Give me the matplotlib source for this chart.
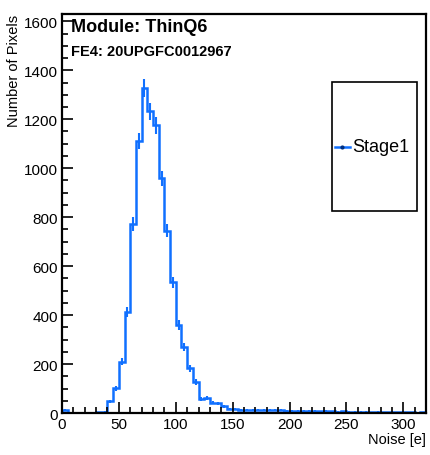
import matplotlib
matplotlib.use("Agg")
import matplotlib.pyplot as plt
from matplotlib.patches import Rectangle
from matplotlib.lines import Line2D
from matplotlib.ticker import MultipleLocator
import numpy as np

plt.rcParams['font.family'] = ['Liberation Sans', 'DejaVu Sans']

# noise histogram, 5 e bins from 0 to 320
bin_edges = np.arange(0, 325, 5)
counts = [12, 0, 0, 0, 0, 0, 3, 6,
          47, 101, 209, 413, 772, 1111, 1328, 1233,
          1175, 958, 745, 534, 359, 270, 183, 126,
          58, 62, 42, 40, 27, 17, 18, 14,
          12, 14, 13, 12, 13, 12, 11, 10,
          9, 10, 8, 9, 8, 7, 8, 7,
          6, 7, 6, 5, 6, 5, 4, 5,
          4, 4, 3, 4, 3, 3, 2, 3]
series_name = "Stage1"
module_text = "Module: ThinQ6"
fe_text = "FE4: 20UPGFC0012967"

blue = '#1070ff'

fig = plt.figure(figsize=(4.31, 4.56), dpi=100)
ax = fig.add_axes([62/431, 1-414/456, (426-62)/431, (414-15)/456])

counts = np.array(counts, dtype=float)
centers = 0.5 * (bin_edges[:-1] + bin_edges[1:])
ax.stairs(counts, bin_edges, color=blue, lw=1.8)
nz = counts > 0
ax.errorbar(centers[nz], counts[nz], yerr=np.sqrt(counts[nz]), fmt='none',
            ecolor=blue, elinewidth=1.5, capsize=0)

ax.set_xlim(0, 320)
ax.set_ylim(0, 1630)
ax.xaxis.set_major_locator(MultipleLocator(50))
ax.xaxis.set_minor_locator(MultipleLocator(10))
ax.yaxis.set_major_locator(MultipleLocator(200))
ax.yaxis.set_minor_locator(MultipleLocator(50))
ax.tick_params(which='both', direction='in', width=1.2, labelsize=11)
ax.tick_params(which='major', length=8)
ax.tick_params(which='minor', length=4)
ax.tick_params(axis='x', pad=3)
ax.tick_params(axis='y', pad=3)
for s in ax.spines.values():
    s.set_linewidth(1.6)

fig.text(14/431, 1-15/456, "Number of Pixels", rotation=90, ha='center',
         va='top', fontsize=10.5)
fig.text(426/431, 1-440/456, "Noise [e]", ha='right', va='center', fontsize=10.5)

ax.text(71/431, 1-27/456, module_text, transform=fig.transFigure,
        fontsize=13, fontweight='bold', va='center', ha='left')
ax.text(71/431, 1-52/456, fe_text, transform=fig.transFigure,
        fontsize=10.5, fontweight='bold', va='center', ha='left')

# legend box
lx0, lx1 = (332-62)/364, (417-62)/364
ly0, ly1 = (414-212)/399, (414-83)/399
ax.add_patch(Rectangle((lx0, ly0), lx1-lx0, ly1-ly0, transform=ax.transAxes,
                       fill=True, facecolor='white', edgecolor='black',
                       lw=1.2, zorder=5))
ymid = 0.5 * (ly0 + ly1)
ax.add_line(Line2D([(335-62)/364, (350-62)/364], [ymid, ymid],
                   transform=ax.transAxes, color=blue, lw=1.8, zorder=6))
ax.plot([(342.5-62)/364], [ymid], 'o', ms=2, color='#003080',
        transform=ax.transAxes, zorder=7)
ax.text((352-62)/364, ymid, series_name, transform=ax.transAxes,
        fontsize=13, va='center', ha='left', zorder=7)

fig.savefig("out.png", dpi=100)
